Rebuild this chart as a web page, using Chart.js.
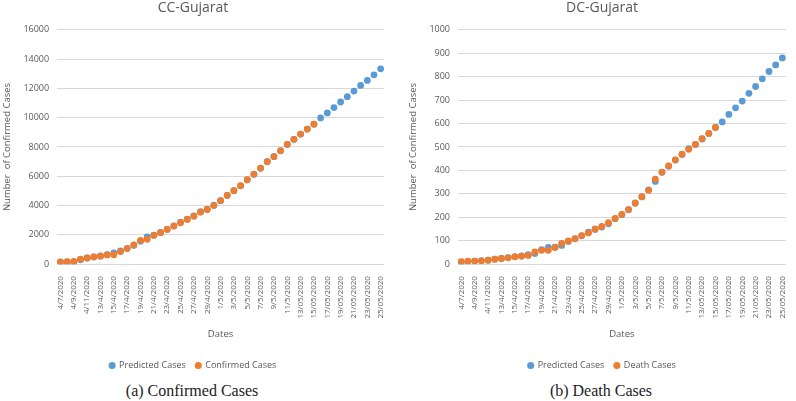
<!DOCTYPE html>
<html>
<head>
<meta charset="utf-8">
<script src="https://cdn.jsdelivr.net/npm/chart.js@4.4.0/dist/chart.umd.min.js"></script>
<style>
  body { margin: 0; width: 796px; height: 401px; background: #fff; overflow: hidden; position: relative; }
  .panel { position: absolute; top: 0; height: 380px; }
  .caption { position: absolute; top: 382px; font-family: "Liberation Serif", serif; font-size: 16px; color: #222; text-align: center; }
</style>
</head>
<body>
<div class="panel" style="left:0;width:398px"><canvas id="cc"></canvas></div>
<div class="panel" style="left:400px;width:396px"><canvas id="dc"></canvas></div>
<div class="caption" style="left:0;width:384px">(a) Confirmed Cases</div>
<div class="caption" style="left:400px;width:402px">(b) Death Cases</div>
<script>
const dates = [
  '4/7/2020', '4/8/2020', '4/9/2020', '4/10/2020', '4/11/2020', '12/4/2020', '13/4/2020', '14/4/2020',
  '15/4/2020', '16/4/2020', '17/4/2020', '18/4/2020', '19/4/2020', '20/4/2020', '21/4/2020', '22/4/2020',
  '23/4/2020', '24/4/2020', '25/4/2020', '26/4/2020', '27/4/2020', '28/4/2020', '29/4/2020', '30/4/2020',
  '1/5/2020', '2/5/2020', '3/5/2020', '4/5/2020', '5/5/2020', '6/5/2020', '7/5/2020', '8/5/2020',
  '9/5/2020', '10/5/2020', '11/5/2020', '12/5/2020', '13/05/2020', '14/05/2020', '15/05/2020', '16/05/2020',
  '17/05/2020', '18/05/2020', '19/05/2020', '20/05/2020', '21/05/2020', '22/05/2020', '23/05/2020', '24/05/2020',
  '25/05/2020'
]

// confirmed cases (CC-Gujarat)
const ccPredicted = [
  140, 150, 120, 300, 420, 490, 560, 650, 760, 900, 1080, 1290, 1560, 1860, 1980, 2160,
  2380, 2610, 2860, 3070, 3290, 3580, 3750, 4030, 4330, 4690, 5010, 5350, 5760, 6130, 6540, 6990,
  7340, 7740, 8170, 8520, 8880, 9220, 9560, 9986, 10325, 10692, 11071, 11437, 11817, 12203, 12542, 12929,
  13336
]
const ccConfirmed = [
  156, 170, 183, 339, 427, 495, 542, 631, 640, 861, 1064, 1308, 1627, 1695, 1966, 2149,
  2373, 2597, 2827, 3051, 3275, 3546, 3729, 4000, 4339, 4698, 5017, 5356, 5763, 6149, 6556, 7003,
  7342, 7749, 8183, 8522, 8881, 9220, 9559
]

// death cases (DC-Gujarat)
const dcPredicted = [
  8, 12, 13, 15, 17, 21, 24, 28, 32, 35, 40, 45, 62, 71, 72, 80,
  97, 108, 121, 136, 148, 158, 172, 194, 211, 232, 260, 287, 317, 353, 392, 418,
  444, 468, 493, 511, 534, 558, 583, 607, 639, 667, 696, 729, 758, 791, 822, 850,
  880
]
const dcDeaths = [
  11, 13, 13, 14, 17, 21, 24, 27, 31, 34, 37, 52, 59, 59, 71, 89,
  99, 109, 122, 133, 150, 161, 177, 195, 212, 233, 261, 288, 315, 363, 393, 419,
  445, 469, 490, 511, 535, 558, 583
]

const grey = '#595959'
const font = 'Open Sans'

function makeChart (id, title, actualLabel, actual, predicted, yMax, yStep, padLeft, padRight) {
  const ctx = document.getElementById(id).getContext('2d')
  return new Chart(ctx, {
    type: 'line',
    data: {
      labels: dates,
      datasets: [
        {
          label: actualLabel,
          data: actual,
          showLine: false,
          pointRadius: 3.4,
          pointHoverRadius: 3.4,
          pointBorderWidth: 0,
          backgroundColor: '#ED7D31',
          borderColor: '#ED7D31',
        },
        {
          label: 'Predicted Cases',
          data: predicted,
          showLine: false,
          pointRadius: 3.4,
          pointHoverRadius: 3.4,
          pointBorderWidth: 0,
          backgroundColor: '#5B9BD5',
          borderColor: '#5B9BD5',
        }
      ]
    },
    options: {
      responsive: true,
      maintainAspectRatio: false,
      animation: false,
      layout: { padding: { left: padLeft, right: padRight, top: 0, bottom: 0 } },
      plugins: {
        title: {
          display: true,
          text: title,
          color: grey,
          font: { family: font, size: 14, weight: 'normal' },
          padding: { top: 0, bottom: 13 }
        },
        legend: {
          position: 'bottom',
          reverse: true,
          labels: {
            usePointStyle: true,
            pointStyle: 'circle',
            boxWidth: 5,
            boxHeight: 5,
            padding: 10,
            color: grey,
            font: { family: font, size: 9 }
          }
        },
        tooltip: { enabled: false }
      },
      scales: {
        x: {
          offset: true,
          grid: { display: false },
          border: { display: false },
          title: {
            display: true,
            text: 'Dates',
            color: grey,
            font: { family: font, size: 9.5 },
            padding: { top: 6, bottom: 11 }
          },
          ticks: {
            autoSkip: false,
            minRotation: 90,
            maxRotation: 90,
            padding: 4,
            color: grey,
            font: { family: font, size: 8 },
            callback: function (value, index) {
              return index % 2 === 0 ? this.getLabelForValue(value) : ''
            }
          }
        },
        y: {
          min: 0,
          max: yMax,
          grid: { color: '#D9D9D9', drawTicks: false },
          border: { display: false },
          title: {
            display: true,
            text: 'Number  of Confirmed Cases',
            color: grey,
            font: { family: font, size: 9.5 },
            padding: { top: 0, bottom: 2 }
          },
          ticks: {
            stepSize: yStep,
            padding: 8,
            color: grey,
            font: { family: font, size: 9 },
            callback: (value) => String(value)
          }
        }
      }
    }
  })
}

makeChart('cc', 'CC-Gujarat', 'Confirmed Cases', ccConfirmed, ccPredicted, 16000, 2000, 2, 14)
makeChart('dc', 'DC-Gujarat', 'Death Cases', dcDeaths, dcPredicted, 1000, 100, 8, 0)
</script>
</body>
</html>
